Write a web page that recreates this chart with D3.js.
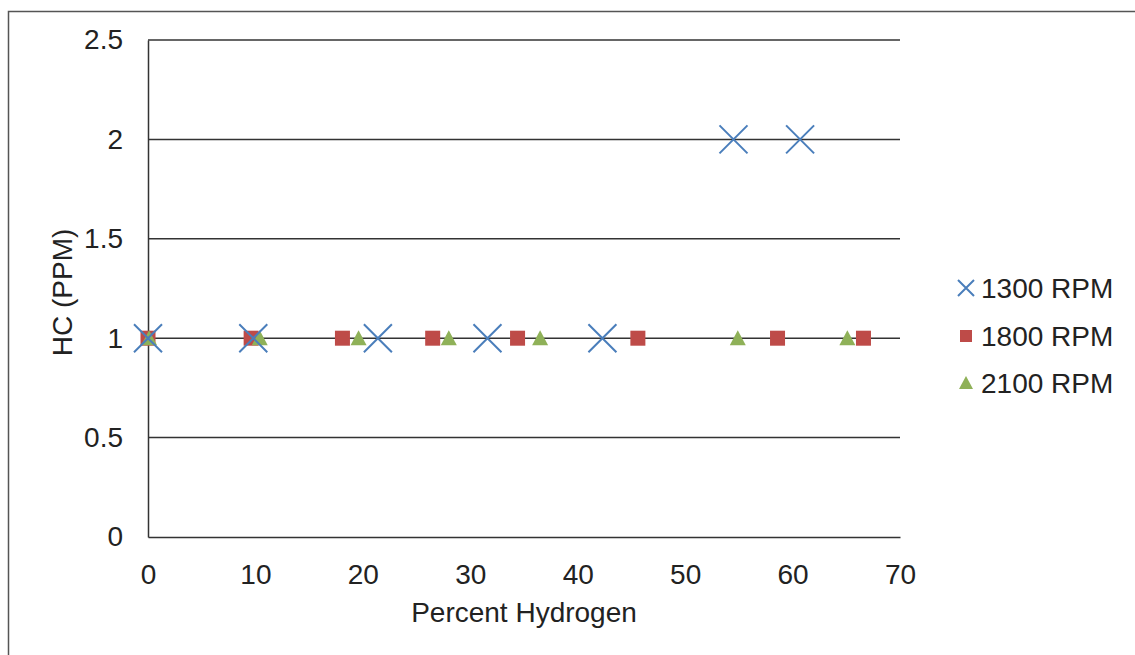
<!DOCTYPE html>
<html>
<head>
<meta charset="utf-8">
<script src="https://cdn.jsdelivr.net/npm/d3@7"></script>
<style>
  body { margin: 0; background: #fff; }
  text { font-family: "Liberation Sans", Arial, sans-serif; fill: #222; }
</style>
</head>
<body>
<div id="chart"></div>
<script>
// Data
//-------------------------------------------------------
var x1300 = [0, 9.8, 21.4, 31.6, 42.3, 54.5, 60.7];
var y1300 = [1, 1, 1, 1, 1, 2, 2];
var x1800 = [0, 9.6, 18.1, 26.5, 34.4, 45.6, 58.6, 66.6];
var y1800 = [1, 1, 1, 1, 1, 1, 1, 1];
var x2100 = [0.1, 10.4, 19.6, 28.0, 36.5, 54.9, 65.1];
var y2100 = [1, 1, 1, 1, 1, 1, 1];
var xTicks = [0, 10, 20, 30, 40, 50, 60, 70];
var yTicks = [0, 0.5, 1, 1.5, 2, 2.5];
var seriesNames = ["1300 RPM", "1800 RPM", "2100 RPM"];

// SVG setup
//-------------------------------------------------------
var svgWidth = 1135;
var svgHeight = 655;
var margin = { top: 40, right: 235, bottom: 118, left: 148 };
var chartWidth = 900 - margin.left;
var chartHeight = 537 - margin.top;
var fontSize = "28px";

var svg = d3.select("#chart")
    .append("svg")
    .attr("width", svgWidth)
    .attr("height", svgHeight);

// outer frame (left and top only visible)
svg.append("path")
    .attr("d", "M8.5,655 L8.5,11.5 L1135,11.5")
    .attr("fill", "none")
    .attr("stroke", "#555")
    .attr("stroke-width", 1.5);

var chartGroup = svg.append("g")
    .attr("transform", `translate(${margin.left}, ${margin.top})`);

var xScale = d3.scaleLinear().domain([0, 70]).range([0, chartWidth]);
var yScale = d3.scaleLinear().domain([0, 2.5]).range([chartHeight, 0]);

// gridlines
chartGroup.selectAll(".grid").data(yTicks.filter(d => d > 0))
    .enter()
    .append("line")
    .attr("x1", 0).attr("x2", chartWidth)
    .attr("y1", d => yScale(d)).attr("y2", d => yScale(d))
    .attr("stroke", "#333")
    .attr("stroke-width", 1.5);

// axes
var bottomAxis = d3.axisBottom(xScale).tickValues(xTicks).tickSize(0).tickPadding(27);
var leftAxis = d3.axisLeft(yScale).tickValues(yTicks).tickSize(0).tickPadding(25)
    .tickFormat(d3.format("~g"));

var xAxis = chartGroup.append("g")
    .attr("transform", `translate(0, ${chartHeight})`)
    .call(bottomAxis);
var yAxis = chartGroup.append("g").call(leftAxis);

[xAxis, yAxis].forEach(function(ax) {
    ax.select(".domain").attr("stroke", "#333").attr("stroke-width", 1.5);
    ax.selectAll("text")
        .style("font-family", "Liberation Sans, Arial, sans-serif")
        .style("font-size", fontSize)
        .attr("fill", "#222");
});

// axis titles
chartGroup.append("text")
    .attr("x", 376)
    .attr("y", chartHeight + 85)
    .attr("text-anchor", "middle")
    .style("font-size", fontSize)
    .text("Percent Hydrogen");

chartGroup.append("text")
    .attr("transform", "rotate(-90)")
    .attr("x", -(yScale(1.23)))
    .attr("y", -76)
    .attr("text-anchor", "middle")
    .style("font-size", fontSize)
    .text("HC (PPM)");

// markers
//-------------------------------------------------------
var blue = "#4a7ebb", red = "#be4b48", green = "#8fb158";

function drawCross(g, cx, cy, s) {
    g.append("path")
        .attr("d", `M${cx - s},${cy - s}L${cx + s},${cy + s}M${cx - s},${cy + s}L${cx + s},${cy - s}`)
        .attr("stroke", blue)
        .attr("stroke-width", 2)
        .attr("fill", "none");
}

var squareGroup = chartGroup.append("g");
squareGroup.selectAll("rect").data(d3.zip(x1800, y1800))
    .enter()
    .append("rect")
    .attr("x", d => xScale(d[0]) - 7.5)
    .attr("y", d => yScale(d[1]) - 7.5)
    .attr("width", 15)
    .attr("height", 15)
    .attr("fill", red);

var triGroup = chartGroup.append("g");
triGroup.selectAll("path").data(d3.zip(x2100, y2100))
    .enter()
    .append("path")
    .attr("transform", d => `translate(${xScale(d[0])},${yScale(d[1])})`)
    .attr("d", "M0,-8L8,7L-8,7Z")
    .attr("fill", green);

var crossGroup = chartGroup.append("g");
d3.zip(x1300, y1300).forEach(function(d) {
    drawCross(crossGroup, xScale(d[0]), yScale(d[1]), 14);
});

// legend
//-------------------------------------------------------
var legend = svg.append("g").attr("transform", "translate(966, 0)");
var legendY = [288, 336, 383];

drawCross(legend, 0, legendY[0], 8);
legend.append("rect")
    .attr("x", -6).attr("y", legendY[1] - 6)
    .attr("width", 12).attr("height", 12)
    .attr("fill", red);
legend.append("path")
    .attr("transform", `translate(0,${legendY[2]})`)
    .attr("d", "M0,-7L7,6L-7,6Z")
    .attr("fill", green);

legend.selectAll(".legend-text").data(seriesNames)
    .enter()
    .append("text")
    .attr("x", 15)
    .attr("y", (d, i) => legendY[i] + 10)
    .style("font-size", fontSize)
    .text(d => d);
</script>
</body>
</html>
